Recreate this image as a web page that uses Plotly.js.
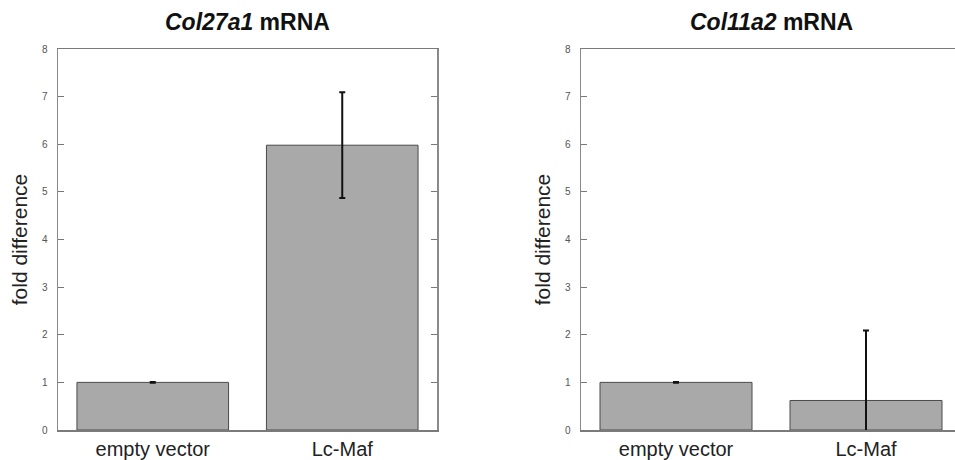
<!DOCTYPE html>
<html>
<head>
<meta charset="utf-8">
<script src="https://cdn.plot.ly/plotly-3.0.1.min.js"></script>
<style>
html, body { margin: 0; padding: 0; overflow: hidden; background: #fff; }
#chart { width: 962px; height: 460px; }
</style>
</head>
<body>
<div id="chart"></div>
<script>
const categories = ["empty vector", "Lc-Maf"];
const col27a1Values = [1.0, 5.98];
const col27a1Errors = [0.01, 1.11];
const col11a2Values = [1.0, 0.62];
const col11a2Errors = [0.01, 1.47];
const panelTitles = ["<b><i>Col27a1</i> mRNA</b>", "<b><i>Col11a2</i> mRNA</b>"];
const yTickVals = [0, 1, 2, 3, 4, 5, 6, 7, 8];

const FONT = "Liberation Sans, Arial, sans-serif";

function barTrace(values, errors, xa, ya) {
  return {
    type: "bar",
    x: categories,
    y: values,
    xaxis: xa,
    yaxis: ya,
    width: 0.8,
    marker: { color: "#a9a9a9", line: { color: "#4a4a4a", width: 1 } },
    error_y: { type: "data", array: errors, visible: true, color: "#111", thickness: 2, width: 3 },
    showlegend: false,
    hoverinfo: "skip"
  };
}

const data = [
  barTrace(col27a1Values, col27a1Errors, "x", "y"),
  barTrace(col11a2Values, col11a2Errors, "x2", "y2")
];

function xAxis(domain, anchor) {
  return {
    domain: domain,
    anchor: anchor,
    type: "category",
    showline: true,
    mirror: true,
    linecolor: "#7a7a7a",
    linewidth: 1.5,
    ticks: "",
    showgrid: false,
    zeroline: false,
    tickfont: { family: FONT, size: 20, color: "#222" },
    fixedrange: true
  };
}
function yAxis(anchor) {
  return {
    anchor: anchor,
    range: [0, 8],
    tickvals: yTickVals,
    ticktext: yTickVals.map(String),
    showline: true,
    mirror: "ticks",
    linecolor: "#8a8a8a",
    linewidth: 1.5,
    ticks: "inside",
    ticklen: 6,
    tickwidth: 1.2,
    tickcolor: "#777",
    showgrid: false,
    zeroline: false,
    ticklabelstandoff: 7,
    tickfont: { family: FONT, size: 10, color: "#555" },
    title: { text: "fold difference", font: { family: FONT, size: 21, color: "#222" }, standoff: 8 },
    fixedrange: true
  };
}

const layout = {
  width: 962,
  height: 460,
  margin: { l: 0, r: 0, t: 49, b: 30, pad: 0 },
  paper_bgcolor: "#fff",
  plot_bgcolor: "#fff",
  bargap: 0.2,
  xaxis: xAxis([58 / 962, 437 / 962], "y"),
  yaxis: yAxis("x"),
  xaxis2: xAxis([581 / 962, 961 / 962], "y2"),
  yaxis2: yAxis("x2"),
  annotations: [
    { text: panelTitles[0], xref: "x domain", yref: "y domain", x: 0.5, y: 1.071, xanchor: "center", yanchor: "middle", showarrow: false, font: { family: FONT, size: 23, color: "#111" } },
    { text: panelTitles[1], xref: "x2 domain", yref: "y2 domain", x: 0.5, y: 1.071, xanchor: "center", yanchor: "middle", showarrow: false, font: { family: FONT, size: 23, color: "#111" } }
  ]
};

Plotly.newPlot("chart", data, layout, { displayModeBar: false, staticPlot: true });
</script>
</body>
</html>
